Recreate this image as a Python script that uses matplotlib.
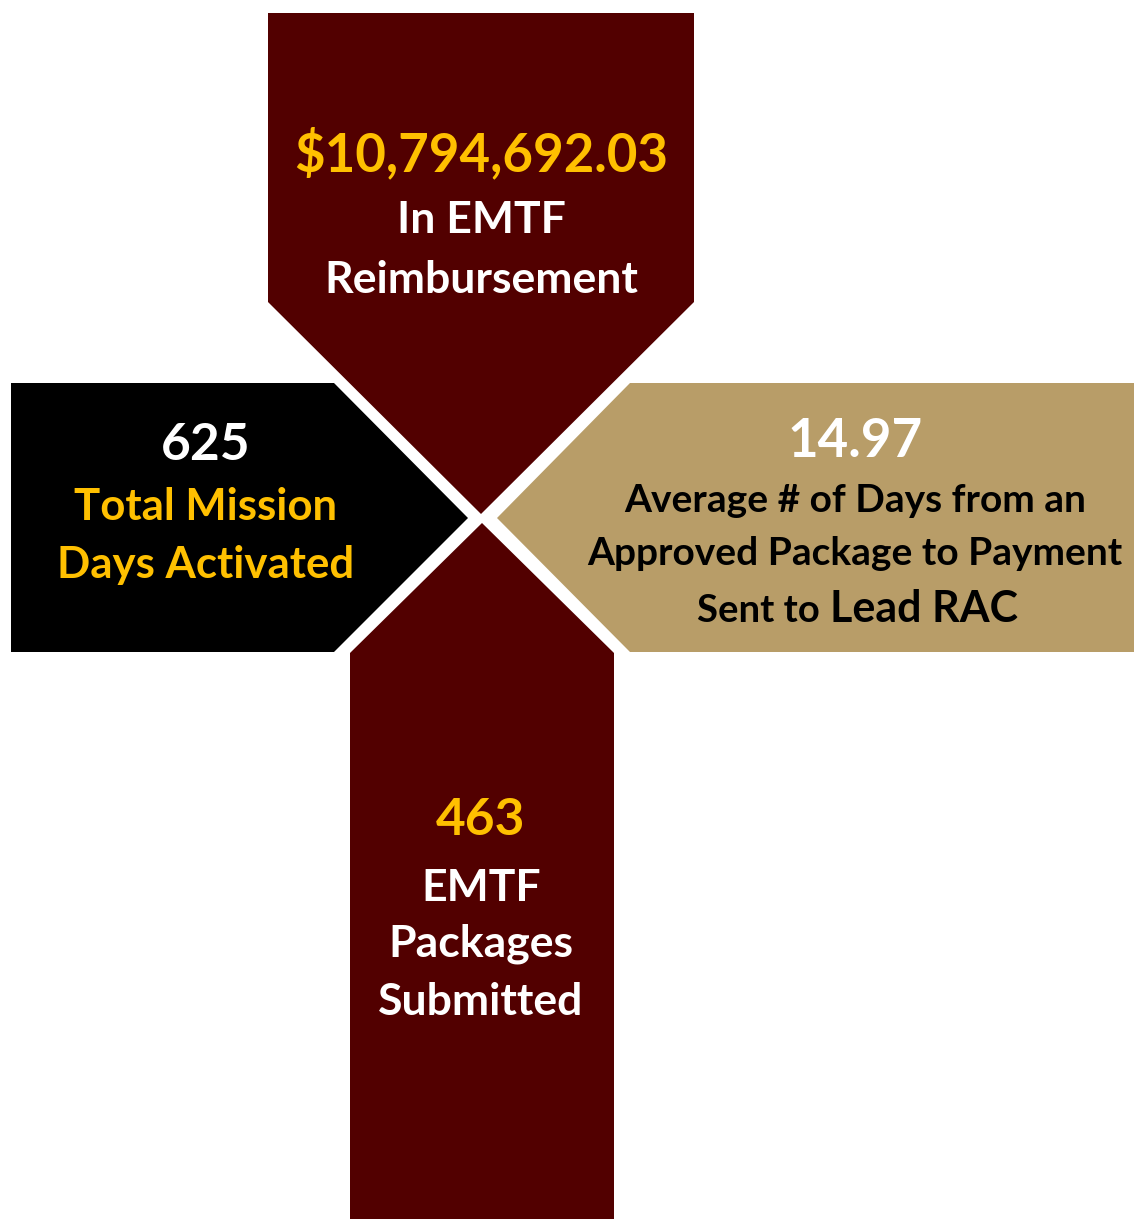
import matplotlib.pyplot as plt
from matplotlib.patches import Polygon

# panel values and captions
values = ["$10,794,692.03", "625", "14.97", "463"]
captions = [
    ["In EMTF", "Reimbursement"],
    ["Total Mission", "Days Activated"],
    ["Average # of Days from an", "Approved Package to Payment", "Sent to", "Lead RAC"],
    ["EMTF", "Packages", "Submitted"],
]

MAROON = "#520000"
BLACK = "#000000"
TAN = "#B89D68"
GOLD = "#FFC000"
WHITE = "#FFFFFF"

plt.rcParams["font.family"] = ["Lato", "DejaVu Sans"]
plt.rcParams["font.weight"] = "bold"

fig = plt.figure(figsize=(11.34, 12.19), dpi=100)
ax = fig.add_axes([0, 0, 1, 1])
ax.set_xlim(0, 1134)
ax.set_ylim(1219, 0)
ax.axis("off")

# shapes (pixel outline of the cross)
shapes = [
    ([(268, 13), (694, 13), (694, 302), (481, 514), (268, 302)], MAROON),
    ([(11, 383), (334, 383), (468, 518), (334, 652), (11, 652)], BLACK),
    ([(630, 383), (1134, 383), (1134, 652), (630, 652), (497, 518)], TAN),
    ([(350, 653), (482, 523), (614, 653), (614, 1219), (350, 1219)], MAROON),
]
for pts, col in shapes:
    ax.add_patch(Polygon(pts, closed=True, facecolor=col, edgecolor="none"))

def txt(x, y, s, color, size, ha="center"):
    ax.text(x, y, s, color=color, fontsize=size, fontweight="bold",
            ha=ha, va="baseline")

# top panel
txt(481, 171, values[0], GOLD, 38)
txt(481, 233, captions[0][0], WHITE, 32)
txt(481, 293, captions[0][1], WHITE, 32)

# left panel
txt(206, 460, values[1], WHITE, 37)
txt(206, 520, captions[1][0], GOLD, 31.5)
txt(206, 578, captions[1][1], GOLD, 31.5)

# right panel
txt(855, 457, values[2], WHITE, 38)
txt(855, 512, captions[2][0], BLACK, 28)
txt(855, 565, captions[2][1], BLACK, 28)
txt(820, 622, captions[2][2], BLACK, 27.5, ha="right")
txt(830, 622, captions[2][3], BLACK, 31, ha="left")

# bottom panel
txt(481, 835, values[3], GOLD, 37)
txt(481, 901, captions[3][0], WHITE, 32)
txt(481, 957, captions[3][1], WHITE, 32)
txt(481, 1015, captions[3][2], WHITE, 32)

fig.savefig("out.png", dpi=100, facecolor="white")
